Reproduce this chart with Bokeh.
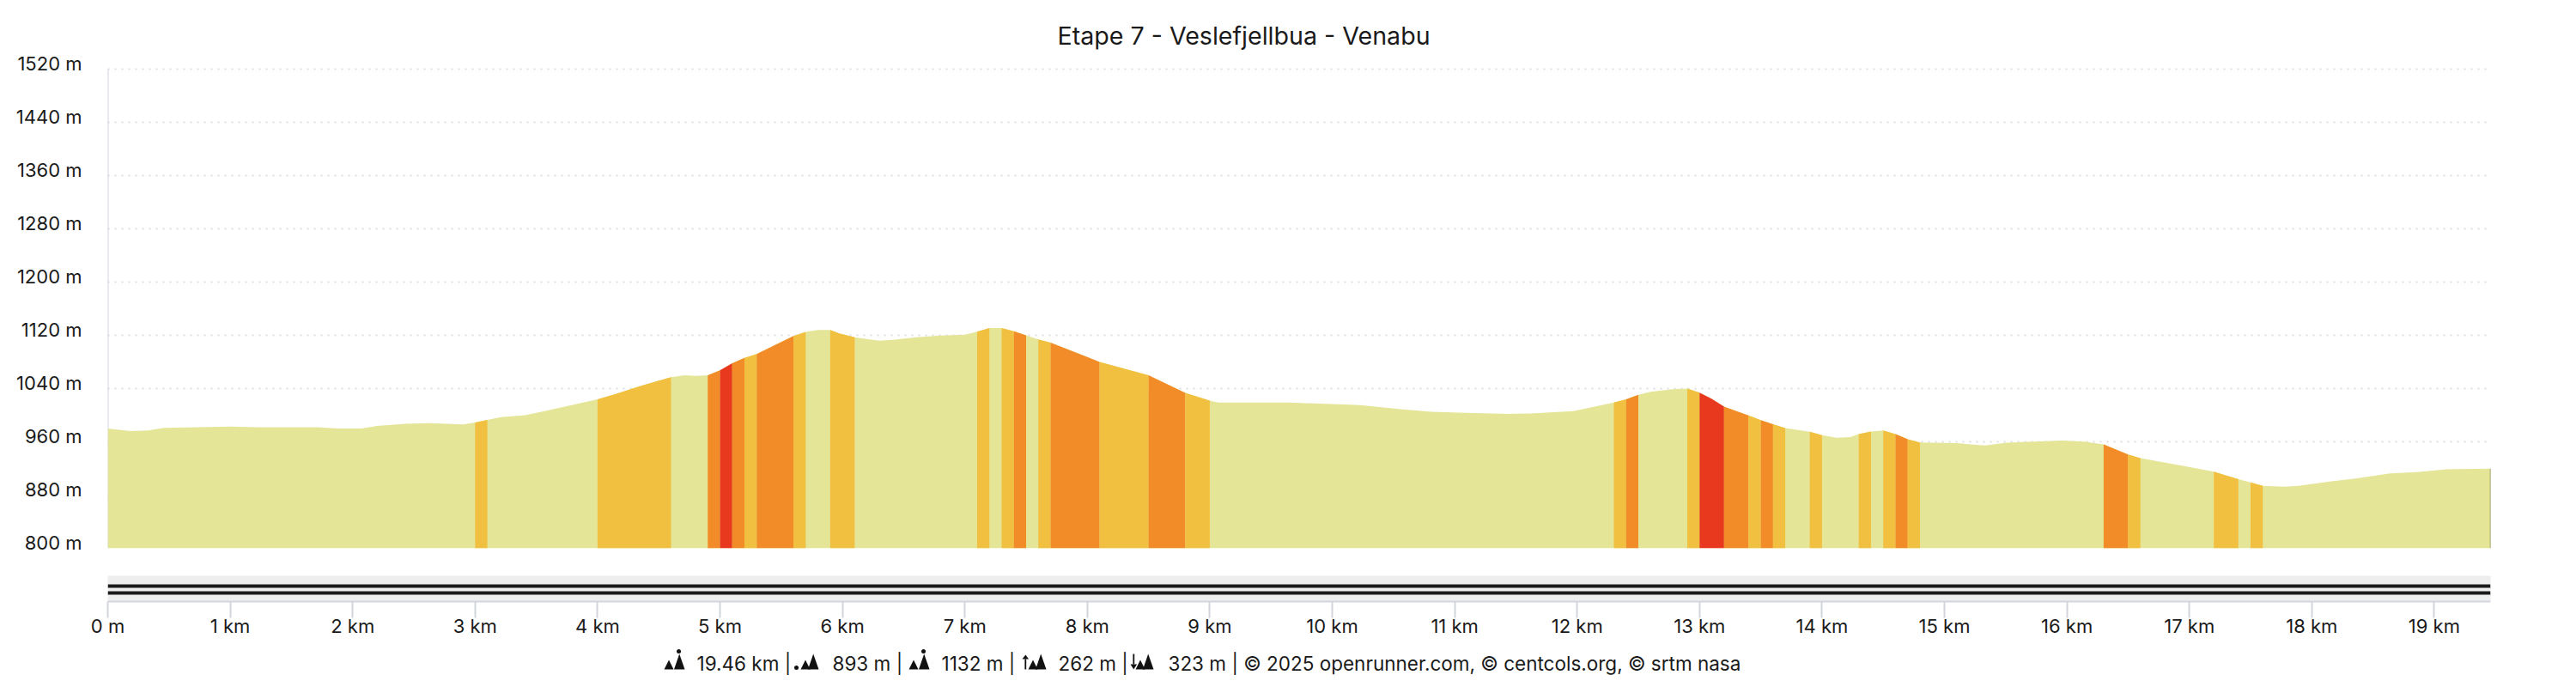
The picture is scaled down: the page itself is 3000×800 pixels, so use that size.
from bokeh.plotting import figure
from bokeh.embed import file_html
from bokeh.resources import INLINE
from bokeh.layouts import column
from bokeh.models import ColumnDataSource, FixedTicker, Range1d, Whisker
from bokeh.core.properties import value
import numpy as np

TITLE = "Etape 7 - Veslefjellbua - Venabu"
FONT = "Inter"
TOTAL_KM = 19.46

profile_km = [0.0, 0.19, 0.33, 0.46, 1.0, 1.22, 1.71, 1.89, 2.07, 2.2, 2.43, 2.63, 2.9, 3.0, 3.1, 3.21, 3.41, 3.59,
              4.0, 4.15, 4.35, 4.6, 4.71, 4.8, 4.9, 5.0, 5.1, 5.2, 5.3, 5.6, 5.7, 5.8, 5.9, 5.98, 6.1, 6.3, 6.43,
              6.6, 6.8, 7.0, 7.1, 7.2, 7.3, 7.4, 7.5, 7.6, 7.7, 8.1, 8.5, 8.8, 9.0, 9.07, 9.65, 10.09, 10.23,
              10.54, 10.81, 11.03, 11.43, 11.62, 11.97, 12.11, 12.3, 12.4, 12.5, 12.6, 12.78, 12.9, 13.0, 13.1,
              13.2, 13.4, 13.5, 13.6, 13.7, 13.9, 14.0, 14.12, 14.23, 14.3, 14.4, 14.5, 14.6, 14.7, 14.8, 15.1,
              15.33, 15.51, 15.96, 16.14, 16.3, 16.5, 16.6, 16.9, 17.2, 17.4, 17.5, 17.6, 17.78, 17.89, 18.16,
              18.37, 18.64, 18.86, 19.1, 19.46]
profile_ele = [980, 976, 977, 981, 983, 982, 982, 980, 980, 984, 987, 988, 986, 989, 993, 997, 1000, 1007,
               1024, 1032, 1044, 1057, 1060, 1059, 1060, 1067.5, 1078, 1086, 1092, 1119, 1125, 1128, 1128, 1122.6,
               1117, 1112, 1113.5, 1117, 1119.6, 1121, 1125.6, 1131, 1131, 1126, 1120, 1114, 1109, 1080, 1060,
               1033.5, 1022, 1019, 1019, 1016, 1015, 1009.5, 1005, 1004, 1002, 1002.6, 1006, 1011.6, 1019, 1024,
               1030.5, 1035, 1039, 1040, 1034, 1024.5, 1013, 999.6, 992.7, 986.6, 980.6, 975, 970, 966, 967, 971.6,
               975.5, 977, 971.6, 964, 959, 958, 954.4, 958.7, 962, 960.4, 956, 941, 935.5, 925.6, 915, 904, 899,
               894, 892.5, 893.8, 900.6, 905, 912.7, 914.4, 918.7, 919.6]

# gradient bands: start km, end km, class
band_start = [3.0, 4.0, 4.9, 5.0, 5.1, 5.2, 5.3, 5.6, 5.9, 7.1, 7.3, 7.4, 7.6, 7.7, 8.1, 8.5, 8.8,
              12.3, 12.4, 12.9, 13.0, 13.2, 13.4, 13.5, 13.6, 13.9, 14.3, 14.5, 14.6, 14.7,
              16.3, 16.5, 17.2, 17.5]
band_end = [3.1, 4.6, 5.0, 5.1, 5.2, 5.3, 5.6, 5.7, 6.1, 7.2, 7.4, 7.5, 7.7, 8.1, 8.5, 8.8, 9.0,
            12.4, 12.5, 13.0, 13.2, 13.4, 13.5, 13.6, 13.7, 14.0, 14.4, 14.6, 14.7, 14.8,
            16.5, 16.6, 17.4, 17.6]
band_class = ["A", "A", "O", "R", "O", "A", "O", "A", "A", "A", "A", "O", "A", "O", "A", "O", "A",
              "A", "O", "A", "R", "O", "A", "O", "A", "A", "A", "A", "O", "A",
              "O", "A", "A", "A"]
CLASS_COLORS = {"A": "#f2c040", "O": "#f28c28", "R": "#e8381e"}
BASE_COLOR = "#e4e597"

y_ticks = [800, 880, 960, 1040, 1120, 1200, 1280, 1360, 1440, 1520]
y_labels = {v: f"{v} m" for v in y_ticks}
x_ticks = list(range(20))
x_labels = {0: "0 m", **{k: f"{k} km" for k in range(1, 20)}}

footer_parts = ["19.46 km |", "893 m |", "1132 m |", "262 m |",
                "323 m | \u00a9 2025 openrunner.com, \u00a9 centcols.org, \u00a9 srtm nasa"]
footer_left = [811, 969, 1096, 1232, 1360]
icon_left = [773, 927, 1058, 1190, 1316]
icon_kind = ["top", "low", "top", "up", "down"]

WIDTH = 3000
LEFT, RIGHT = 125, 100
AXIS = "#d3d5de"
INK = "#1a1a1a"

# --- elevation figure -------------------------------------------------
top = figure(width=WIDTH, height=658, x_range=Range1d(0, TOTAL_KM), y_range=Range1d(800, 1529),
             output_backend="svg", toolbar_location=None, min_border_left=LEFT, min_border_right=RIGHT,
             min_border_top=73, min_border_bottom=20, title=TITLE)
top.title.text_font = FONT
top.title.text_font_size = "28.6px"
top.title.text_font_style = "normal"
top.title.text_color = INK
top.title.align = "left"
top.title.offset = 1106
top.title.standoff = 30
top.outline_line_color = None
top.xaxis.visible = False
top.xgrid.visible = False
# labels sit above their gridline: the axis reads a range moved by that much
top.extra_y_ranges = {"labels": Range1d(791.05, 1520.05)}
top.yaxis.y_range_name = "labels"
top.yaxis.ticker = FixedTicker(ticks=y_ticks)
top.yaxis.major_label_overrides = y_labels
top.yaxis.major_label_standoff = 24
top.yaxis.major_label_text_font = FONT
top.yaxis.major_label_text_font_size = "22px"
top.yaxis.major_label_text_color = INK
top.yaxis.major_tick_line_color = None
top.yaxis.minor_tick_line_color = None
top.yaxis.axis_line_color = None
top.ygrid.ticker = FixedTicker(ticks=y_ticks)
top.ygrid.grid_line_color = "#dcdde0"
top.ygrid.grid_line_width = 2
top.ygrid.grid_line_dash = "2 6"
top.add_layout(Whisker(source=ColumnDataSource(dict(b=[0], lo=[y_ticks[0]], up=[y_ticks[-1]])),
                       base="b", lower="lo", upper="up", dimension="height",
                       line_color=AXIS, line_width=2, lower_head=None, upper_head=None))

km = np.array(profile_km)
ele = np.array(profile_ele)
top.varea(x=profile_km, y1=[800] * len(profile_km), y2=profile_ele, fill_color=BASE_COLOR)

xs, ys, cols = [], [], []
for s, e, c in zip(band_start, band_end, band_class):
    mask = (km > s) & (km < e)
    bx = [s] + km[mask].tolist() + [e]
    by = np.interp(bx, km, ele).tolist()
    xs.append([s] + bx + [e])
    ys.append([800] + by + [800])
    cols.append(CLASS_COLORS[c])
top.patches(xs, ys, fill_color=cols, line_color=None)
top.segment(x0=[TOTAL_KM], y0=[800], x1=[TOTAL_KM], y1=[profile_ele[-1]], line_color="#8f8f55", line_width=1.5)

# --- track bar and distance axis ----------------------------------------
bot = figure(width=WIDTH, height=92, x_range=Range1d(0, TOTAL_KM), y_range=Range1d(0, 30),
             output_backend="svg", toolbar_location=None, min_border_left=LEFT, min_border_right=RIGHT,
             min_border_top=12, min_border_bottom=50)
bot.outline_line_color = None
bot.yaxis.visible = False
bot.grid.visible = False
bot.background_fill_color = "#eeeeee"
bot.xaxis.ticker = FixedTicker(ticks=x_ticks)
bot.xaxis.major_label_overrides = x_labels
bot.xaxis.major_tick_in = 0
bot.xaxis.major_tick_out = 19
bot.xaxis.minor_tick_line_color = None
bot.xaxis.axis_line_color = AXIS
bot.xaxis.axis_line_width = 2
bot.xaxis.major_tick_line_color = AXIS
bot.xaxis.major_tick_line_width = 2
bot.xaxis.major_label_standoff = -4
bot.xaxis.major_label_text_font = FONT
bot.xaxis.major_label_text_font_size = "22px"
bot.xaxis.major_label_text_color = INK
bot.segment(x0=[0, 0], y0=[18, 10], x1=[TOTAL_KM, TOTAL_KM], y1=[18, 10], line_color=INK, line_width=4)

# --- footer: ranges in page pixels ---------------------------------------
foot = figure(width=WIDTH, height=50, x_range=Range1d(LEFT, WIDTH - RIGHT), y_range=Range1d(803, 753),
              output_backend="svg", toolbar_location=None, min_border_left=LEFT, min_border_right=RIGHT,
              min_border_top=0, min_border_bottom=0)
foot.axis.visible = False
foot.grid.visible = False
foot.outline_line_color = None
foot.text(x=footer_left, y=[775] * 5, text=footer_parts, text_font=value(FONT),
          text_font_size="22.5px", text_baseline="alphabetic", text_color=INK)

ix, iy, dx, dy = [], [], [], []
for l, k in zip(icon_left, icon_kind):
    a = l + {"top": 0, "low": 5, "up": 7, "down": 6}[k]
    b = a + (11.5 if k == "top" else 8.5)
    ix += [[a, a + 5.5, a + 11], [b, b + 6.2, b + 12.5]]
    iy += [[782, 771, 782], [782, 764, 782]]
    if k == "top":
        dx.append(l + 17); dy.append(761)
    elif k == "low":
        dx.append(l); dy.append(780)
    elif k == "up":
        ix += [[l + 3.8, l + 7.6, l, l + 3.8], [l + 2.9, l + 4.7, l + 4.7, l + 2.9]]
        iy += [[765, 770, 770, 765], [770, 770, 782, 782]]
    else:
        ix += [[l + 3.8, l + 7.6, l, l + 3.8], [l + 2.9, l + 4.7, l + 4.7, l + 2.9]]
        iy += [[782, 776, 776, 782], [764, 764, 776, 776]]
foot.patches(ix, iy, fill_color="#111111", line_color=None)
foot.circle(x=dx, y=dy, radius=2.5, radius_units="screen", fill_color="#111111", line_color=None)

layout = column(top, bot, foot, spacing=0)
open("out.html", "w").write(file_html(layout, INLINE))
